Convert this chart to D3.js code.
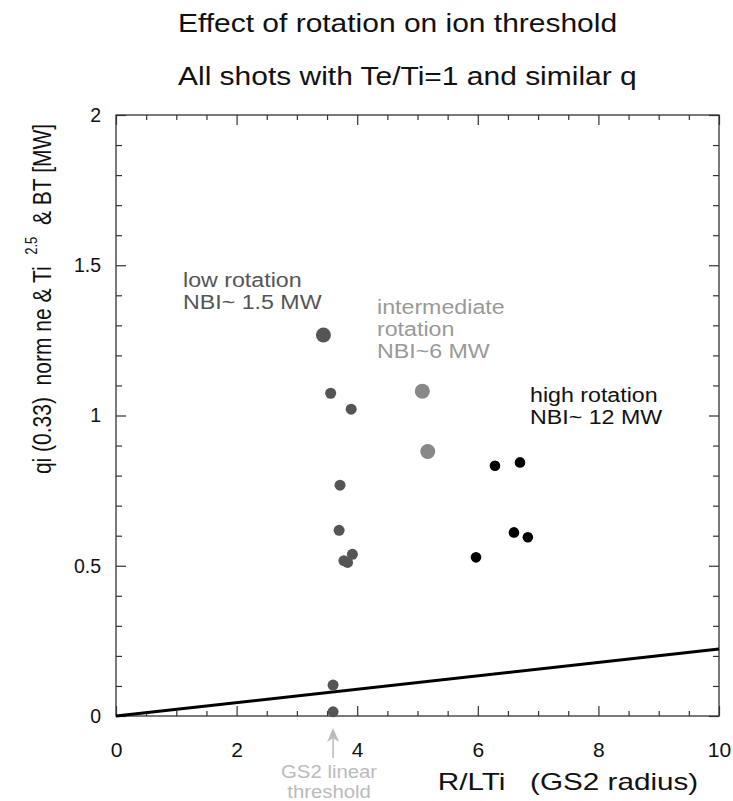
<!DOCTYPE html>
<html>
<head>
<meta charset="utf-8">
<script src="https://cdn.jsdelivr.net/npm/d3@7"></script>
<style>
  html, body { margin: 0; padding: 0; background: #fff; }
  svg { display: block; }
  text { font-family: "Liberation Sans", Arial, Helvetica, sans-serif; white-space: pre; }
</style>
</head>
<body>
<svg id="chart" width="733" height="801"></svg>
<script>
// ---- data ----
const titleLines = ["Effect of rotation on ion threshold", "All shots with Te/Ti=1 and similar q"];
const xTicksMajor = [0, 2, 4, 6, 8, 10];
const yTicksMajor = [0, 0.5, 1, 1.5, 2];
const yTickLabels = ["0", "0.5", "1", "1.5", "2"];

// low rotation (NBI ~1.5 MW)
const lowX = [3.56, 3.90, 3.715, 3.70, 3.92, 3.78, 3.84, 3.60, 3.60];
const lowY = [1.074, 1.021, 0.768, 0.618, 0.538, 0.517, 0.511, 0.103, 0.014];
// low rotation, large marker
const lowBigX = [3.44];
const lowBigY = [1.268];
// intermediate rotation (NBI ~6 MW)
const midX = [5.08, 5.17];
const midY = [1.081, 0.880];
// high rotation (NBI ~12 MW)
const highX = [6.285, 6.70, 6.60, 6.83, 5.97];
const highY = [0.833, 0.844, 0.611, 0.595, 0.528];
// GS2 linear threshold line
const thrX = [0, 10];
const thrY = [0, 0.223];
const gs2ThresholdX = 3.6;

// ---- layout ----
const W = 733, H = 801;
const margin = {left: 116, right: 14, top: 115, bottom: 85};
const svg = d3.select("#chart");
const x = d3.scaleLinear().domain([0, 10]).range([margin.left, W - margin.right]);
const y = d3.scaleLinear().domain([0, 2]).range([H - margin.bottom, margin.top]);
const x0 = x.range()[0], x1 = x.range()[1], y0 = y.range()[0], y1 = y.range()[1];

function stretchedText(g, px, py, str, size, sx, color, anchor) {
  return g.append("text")
    .attr("transform", `translate(${px},${py}) scale(${sx},1)`)
    .attr("text-anchor", anchor || "start")
    .attr("font-size", size)
    .attr("fill", color)
    .text(str);
}

// title
const tg = svg.append("g");
stretchedText(tg, 178, 32, titleLines[0], 25.5, 1.175, "#111");
stretchedText(tg, 178, 85, titleLines[1], 25.5, 1.175, "#111");

// ---- axes ----
const axisColor = "#333";
const yMinor = d3.range(0, 2.0001, 0.1).filter(v => Math.abs(v * 2 - Math.round(v * 2)) > 1e-6);
const xMinor = d3.range(0, 10.0001, 0.5).filter(v => Math.abs(v / 2 - Math.round(v / 2)) > 1e-6);

function styleAxis(g) {
  g.select(".domain").remove();
  g.selectAll("line").attr("stroke", axisColor).attr("stroke-width", 1.2);
  g.selectAll("text").attr("fill", "#111").attr("font-family", "Liberation Sans, Arial, sans-serif");
}

// left
svg.append("g").attr("transform", `translate(${x0},0)`)
  .call(d3.axisLeft(y).tickValues(yTicksMajor).tickSize(-10).tickPadding(15)
    .tickFormat((d, i) => yTickLabels[i]))
  .call(styleAxis)
  .call(g => g.selectAll("text").attr("font-size", 19.5));
svg.append("g").attr("transform", `translate(${x0},0)`)
  .call(d3.axisLeft(y).tickValues(yMinor).tickSize(-6).tickFormat(""))
  .call(styleAxis);
// right
svg.append("g").attr("transform", `translate(${x1},0)`)
  .call(d3.axisRight(y).tickValues(yTicksMajor).tickSize(-10).tickFormat(""))
  .call(styleAxis);
svg.append("g").attr("transform", `translate(${x1},0)`)
  .call(d3.axisRight(y).tickValues(yMinor).tickSize(-6).tickFormat(""))
  .call(styleAxis);
// bottom
svg.append("g").attr("transform", `translate(0,${y0})`)
  .call(d3.axisBottom(x).tickValues(xTicksMajor).tickSize(-10).tickPadding(26).tickFormat(d3.format("d")))
  .call(styleAxis)
  .call(g => g.selectAll("text").attr("font-size", 21));
svg.append("g").attr("transform", `translate(0,${y0})`)
  .call(d3.axisBottom(x).tickValues(xMinor).tickSize(-5).tickFormat(""))
  .call(styleAxis);
// top
svg.append("g").attr("transform", `translate(0,${y1})`)
  .call(d3.axisTop(x).tickValues(xTicksMajor).tickSize(-10).tickFormat(""))
  .call(styleAxis);
svg.append("g").attr("transform", `translate(0,${y1})`)
  .call(d3.axisTop(x).tickValues(xMinor).tickSize(-5).tickFormat(""))
  .call(styleAxis);

// frame
svg.append("rect")
  .attr("x", x0).attr("y", y1).attr("width", x1 - x0).attr("height", y0 - y1)
  .attr("fill", "none").attr("stroke", axisColor).attr("stroke-width", 1.3);

// axis titles
stretchedText(svg, 568, 790, "R/LTi   (GS2 radius)", 23, 1.29, "#111", "middle");

const yl = svg.append("text")
  .attr("transform", `translate(51,299) rotate(-90) scale(1,1.25)`)
  .attr("text-anchor", "middle")
  .attr("font-size", 21)
  .attr("fill", "#111");
yl.append("tspan").text("qi (0.33)  norm ne & Ti  ");
yl.append("tspan").attr("font-size", 13).attr("dy", -11).text("2.5");
yl.append("tspan").attr("dy", 11).text("  & BT [MW]");

// ---- threshold line ----
const line = d3.line().x(d => x(d[0])).y(d => y(d[1]));
svg.append("path")
  .datum(thrX.map((v, i) => [v, thrY[i]]))
  .attr("d", line)
  .attr("fill", "none").attr("stroke", "#000").attr("stroke-width", 3);

// ---- points ----
function drawPoints(xs, ys, r, color) {
  svg.append("g").selectAll("circle")
    .data(xs.map((v, i) => [v, ys[i]]))
    .join("circle")
    .attr("cx", d => x(d[0])).attr("cy", d => y(d[1]))
    .attr("r", r).attr("fill", color);
}
drawPoints(lowX, lowY, 5.5, "#555");
drawPoints(lowBigX, lowBigY, 7.5, "#555");
drawPoints(midX, midY, 7.5, "#888");
drawPoints(highX, highY, 5.3, "#000");

// ---- annotations ----
const ag = svg.append("g");
const aSize = 19.5, aScale = 1.19;
stretchedText(ag, 183, 287, "low rotation", aSize, aScale, "#555");
stretchedText(ag, 183, 309, "NBI~ 1.5 MW", aSize, aScale, "#555");
stretchedText(ag, 377, 314, "intermediate", aSize, aScale, "#999");
stretchedText(ag, 377, 336, "rotation", aSize, aScale, "#999");
stretchedText(ag, 377, 358, "NBI~6 MW", aSize, aScale, "#999");
stretchedText(ag, 530, 402, "high rotation", aSize, aScale, "#111");
stretchedText(ag, 530, 424, "NBI~ 12 MW", aSize, aScale, "#111");

// GS2 threshold arrow
const ax = x(gs2ThresholdX);
const arrowColor = "#bbb";
svg.append("line")
  .attr("x1", ax).attr("x2", ax).attr("y1", y0 + 20).attr("y2", y0 + 42)
  .attr("stroke", arrowColor).attr("stroke-width", 1.5);
svg.append("path")
  .attr("d", `M${ax},${y0 + 12} L${ax - 6},${y0 + 26} L${ax},${y0 + 22} L${ax + 6},${y0 + 26} Z`)
  .attr("fill", arrowColor);
stretchedText(svg, ax - 4, 778, "GS2 linear", 18.5, 1.1, "#bbb", "middle");
stretchedText(svg, ax - 4, 798, "threshold", 18.5, 1.1, "#bbb", "middle");
</script>
</body>
</html>
